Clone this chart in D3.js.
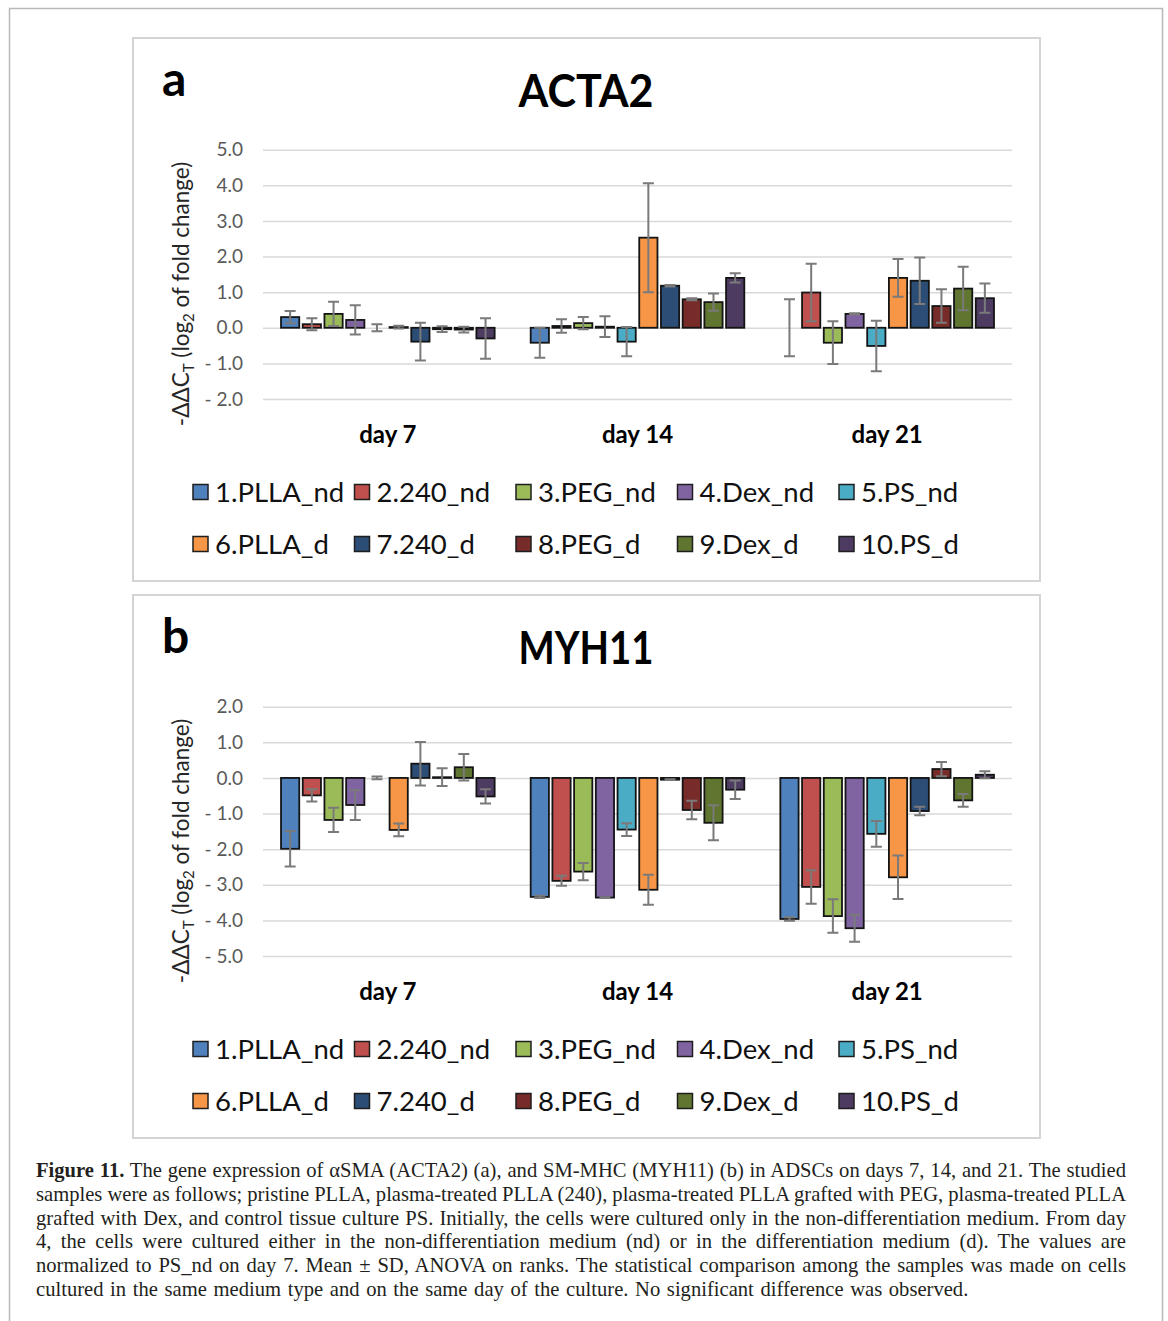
<!DOCTYPE html>
<meta charset="utf-8">
<title>ACTA2 and MYH11 gene expression in ADSCs</title>
<style>
    body {
        margin: 0;
        background: #fff;
    }

    svg {
        display: block;
    }

    .tick text {
        font: 19px Lato, sans-serif;
        fill: #595959;
    }

    .tick line {
        stroke: #d9d9d9;
        stroke-width: 1.5;
    }
</style>

<body>
    <div id="chart"></div>

    <script src="https://cdn.jsdelivr.net/npm/d3@7"></script>
    <script>
        // categories and series
        var days = ["day 7", "day 14", "day 21"];
        var samples = ["1.PLLA_nd", "2.240_nd", "3.PEG_nd", "4.Dex_nd", "5.PS_nd",
            "6.PLLA_d", "7.240_d", "8.PEG_d", "9.Dex_d", "10.PS_d"];
        var colors = ["#4F81BD", "#C0504D", "#9BBB59", "#8064A2", "#4BACC6",
            "#F79646", "#2C4D75", "#772C2A", "#5F7530", "#4D3B62"];

        // y tick values
        var ticksA = [5, 4, 3, 2, 1, 0, -1, -2];
        var ticksB = [2, 1, 0, -1, -2, -3, -4, -5];

        // ACTA2, one row per day, one value per sample
        var acta2Mean = [
            [0.30, 0.10, 0.39, 0.22, 0.00, 0.02, -0.39, -0.04, -0.05, -0.30],
            [-0.42, 0.05, 0.13, 0.03, -0.39, 2.53, 1.18, 0.80, 0.72, 1.40],
            [0.00, 0.99, -0.42, 0.39, -0.51, 1.40, 1.32, 0.61, 1.10, 0.83]
        ];
        var acta2Sd = [
            [0.17, 0.17, 0.34, 0.41, 0.10, 0.04, 0.53, 0.08, 0.08, 0.57],
            [0.42, 0.19, 0.17, 0.29, 0.41, 1.53, 0.02, 0.03, 0.24, 0.13],
            [0.80, 0.81, 0.60, 0.02, 0.71, 0.53, 0.65, 0.47, 0.61, 0.41]
        ];

        // MYH11
        var myh11Mean = [
            [-1.99, -0.49, -1.18, -0.76, 0.00, -1.46, 0.40, 0.02, 0.30, -0.52],
            [-3.34, -2.89, -2.63, -3.36, -1.45, -3.14, -0.05, -0.90, -1.26, -0.33],
            [-3.96, -3.06, -3.88, -4.22, -1.57, -2.79, -0.93, 0.25, -0.63, 0.09]
        ];
        var myh11Sd = [
            [0.50, 0.17, 0.34, 0.42, 0.04, 0.18, 0.61, 0.25, 0.37, 0.20],
            [0.03, 0.14, 0.24, 0.01, 0.18, 0.42, 0.01, 0.26, 0.49, 0.26],
            [0.05, 0.47, 0.47, 0.38, 0.36, 0.61, 0.12, 0.20, 0.18, 0.10]
        ];

        var captionLines = [
            "The gene expression of \u03b1SMA (ACTA2) (a), and SM-MHC (MYH11) (b) in ADSCs on days 7, 14, and 21. The studied",
            "samples were as follows; pristine PLLA, plasma-treated PLLA (240), plasma-treated PLLA grafted with PEG, plasma-treated PLLA",
            "grafted with Dex, and control tissue culture PS. Initially, the cells were cultured only in the non-differentiation medium. From day",
            "4, the cells were cultured either in the non-differentiation medium (nd) or in the differentiation medium (d). The values are",
            "normalized to PS_nd on day 7. Mean \u00b1 SD, ANOVA on ranks. The statistical comparison among the samples was made on cells",
            "cultured in the same medium type and on the same day of the culture. No significant difference was observed."
        ];

        var W = 1168,
            H = 1321;

        var svg = d3.select("#chart")
            .append("svg")
            .attr("width", W)
            .attr("height", H);

        // outer figure frame
        svg.append("rect")
            .attr("x", 9.5)
            .attr("y", 8.5)
            .attr("width", 1153)
            .attr("height", 1340)
            .attr("fill", "none")
            .attr("stroke", "#b9b9b9")
            .attr("stroke-width", 1.5);

        var plotLeft = 263,
            plotRight = 1012,
            plotTop = 111.7,
            plotBottom = 361;

        var x0 = d3.scaleBand()
            .domain(days)
            .range([plotLeft, plotRight]);

        var x1 = d3.scaleBand()
            .domain(samples)
            .range([0, x0.bandwidth()])
            .paddingInner(0.16)
            .paddingOuter(0.83);

        function tickFormat(v) {
            if (v < 0) return "- " + d3.format(".1f")(-v);
            return d3.format(".1f")(v);
        }

        function drawPanel(top, letter, title, ticks, means, sds) {
            var g = svg.append("g")
                .attr("transform", "translate(0," + top + ")");

            // panel box
            g.append("rect")
                .attr("x", 133)
                .attr("y", 0)
                .attr("width", 907)
                .attr("height", 543)
                .attr("fill", "#fff")
                .attr("stroke", "#d4d4d4")
                .attr("stroke-width", 2);

            g.append("text")
                .attr("x", 162)
                .attr("y", 58)
                .style("font", "bold 48px Lato, sans-serif")
                .text(letter);

            g.append("text")
                .attr("x", 586)
                .attr("y", 69)
                .attr("text-anchor", "middle")
                .attr("textLength", title.length * 27)
                .attr("lengthAdjust", "spacingAndGlyphs")
                .style("font", "bold 46px Lato, sans-serif")
                .text(title);

            var y = d3.scaleLinear()
                .domain([ticks[ticks.length - 1], ticks[0]])
                .range([plotBottom, plotTop]);

            // y axis with gridlines
            var yAxis = g.append("g")
                .attr("transform", "translate(" + plotLeft + ",0)")
                .call(d3.axisLeft(y)
                    .tickValues(ticks)
                    .tickSize(-(plotRight - plotLeft))
                    .tickPadding(20)
                    .tickFormat(tickFormat));
            yAxis.select(".domain").remove();

            // y axis title
            var yl = g.append("text")
                .attr("transform", "translate(189," + 256 + ") rotate(-90)")
                .attr("text-anchor", "middle")
                .style("font", "22.5px Lato, sans-serif")
                .style("fill", "#262626");
            yl.append("tspan").text("-\u0394\u0394C");
            yl.append("tspan").attr("font-size", "15px").attr("dy", 5).text("T");
            yl.append("tspan").attr("dy", -5).text(" (log");
            yl.append("tspan").attr("font-size", "15px").attr("dy", 5).text("2");
            yl.append("tspan").attr("dy", -5).text(" of fold change)");

            // day labels
            g.selectAll(".day")
                .data(days)
                .enter()
                .append("text")
                .attr("class", "day")
                .attr("x", function(d) {
                    return x0(d) + x0.bandwidth() / 2;
                })
                .attr("y", 405)
                .attr("text-anchor", "middle")
                .style("font", "bold 24px Lato, sans-serif")
                .text(function(d) {
                    return d;
                });

            // flatten rows
            var rows = [];
            days.forEach(function(day, i) {
                samples.forEach(function(s, j) {
                    rows.push({
                        day: day,
                        sample: s,
                        j: j,
                        mean: means[i][j],
                        sd: sds[i][j]
                    });
                });
            });

            var bars = g.append("g");
            bars.selectAll("rect")
                .data(rows)
                .enter()
                .append("rect")
                .attr("x", function(d) {
                    return x0(d.day) + x1(d.sample);
                })
                .attr("y", function(d) {
                    return y(Math.max(0, d.mean));
                })
                .attr("width", x1.bandwidth())
                .attr("height", function(d) {
                    return Math.abs(y(d.mean) - y(0));
                })
                .attr("fill", function(d) {
                    return colors[d.j];
                })
                .attr("stroke", "#141414")
                .attr("stroke-width", 1.8)
                .attr("stroke-opacity", function(d) {
                    return d.mean === 0 ? 0 : 1;
                });

            // error bars
            var cap = 5.5;
            var err = g.append("g")
                .attr("stroke", "#7a7a7a")
                .attr("stroke-width", 2)
                .attr("fill", "none");
            err.selectAll("path")
                .data(rows)
                .enter()
                .append("path")
                .attr("d", function(d) {
                    var cx = x0(d.day) + x1(d.sample) + x1.bandwidth() / 2;
                    var y1 = y(d.mean + d.sd),
                        y2 = y(d.mean - d.sd);
                    return "M" + (cx - cap) + "," + y1 + "H" + (cx + cap) +
                        "M" + cx + "," + y1 + "V" + y2 +
                        "M" + (cx - cap) + "," + y2 + "H" + (cx + cap);
                });

            // legend, two rows of five
            var legend = g.selectAll(".legend")
                .data(samples)
                .enter()
                .append("g")
                .attr("class", "legend")
                .attr("transform", function(d, i) {
                    var col = i % 5,
                        row = Math.floor(i / 5);
                    return "translate(" + (193 + col * 161.5) + "," + (454 + row * 52) + ")";
                });
            legend.append("rect")
                .attr("x", 0)
                .attr("y", -7.5)
                .attr("width", 15)
                .attr("height", 15)
                .attr("fill", function(d, i) {
                    return colors[i];
                })
                .attr("stroke", "#1e1e1e")
                .attr("stroke-width", 1.5);
            legend.append("text")
                .attr("x", 22)
                .attr("y", 10)
                .style("font", "27.5px Lato, sans-serif")
                .style("fill", "#111")
                .text(function(d) {
                    return d;
                });
        }

        drawPanel(38, "a", "ACTA2", ticksA, acta2Mean, acta2Sd);
        drawPanel(595, "b", "MYH11", ticksB, myh11Mean, myh11Sd);

        // caption, justified by word spacing
        var capLeft = 36,
            capRight = 1126;
        var caption = svg.append("g")
            .style("font", "20.6px 'Liberation Serif', serif")
            .style("fill", "#231f20");
        var spacings = [];
        captionLines.forEach(function(line, i) {
            var t = caption.append("text")
                .attr("x", capLeft)
                .attr("y", 1177 + i * 23.8);
            if (i === 0) {
                t.append("tspan").style("font-weight", "bold").text("Figure 11.");
                t.append("tspan").text(" " + line);
                line = "Figure 11. " + line;
            } else {
                t.append("tspan").text(line);
            }
            var nSpaces = line.split(" ").length - 1;
            if (i < captionLines.length - 1) {
                var w = t.node().getComputedTextLength();
                var ws = (capRight - capLeft - w) / nSpaces;
                spacings.push(ws);
                t.attr("word-spacing", ws);
            } else {
                t.attr("word-spacing", d3.mean(spacings));
            }
        });
    </script>
</body>
